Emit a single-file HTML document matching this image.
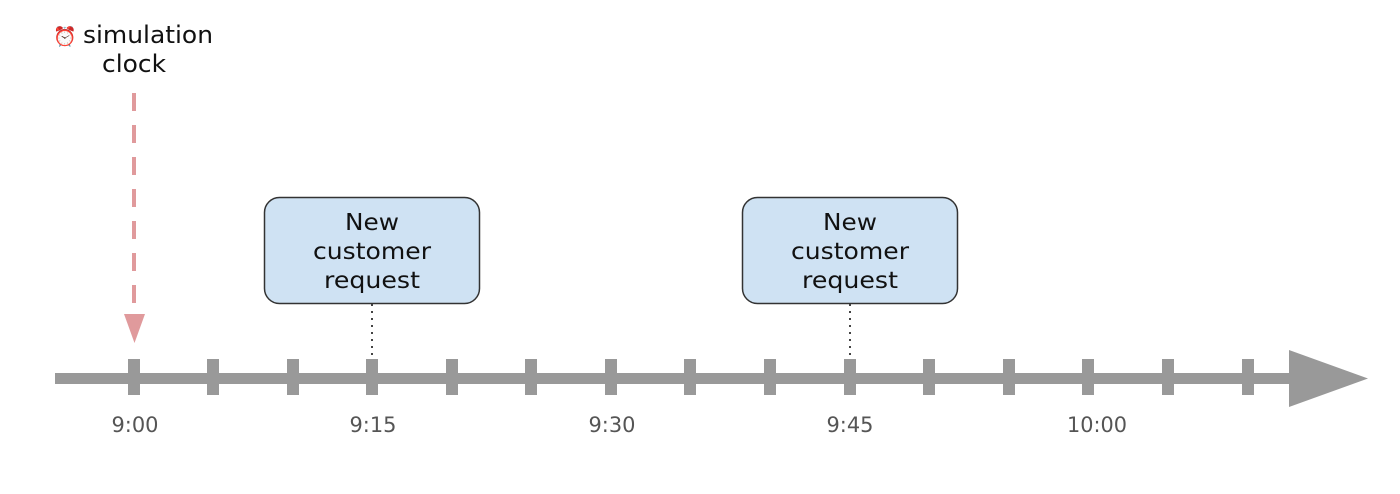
<!DOCTYPE html>
<html><head><style>body{margin:0;background:#fff}</style></head><body>
<svg width="1400" height="494" xmlns="http://www.w3.org/2000/svg" style="display:block">
<g font-family="DejaVu Sans, Liberation Sans, sans-serif">
<text x="65" y="43" font-size="19" text-anchor="middle" fill="#d66">⏰</text>
<text x="83" y="43" font-size="24" fill="#111" textLength="130" lengthAdjust="spacingAndGlyphs">simulation</text>
<text x="102" y="72" font-size="24" fill="#111" textLength="64" lengthAdjust="spacingAndGlyphs">clock</text>
<line x1="134" y1="93" x2="134" y2="306" stroke="#e09a9c" stroke-width="4" stroke-dasharray="18,14"/>
<polygon points="124,314 145,314 134.5,343" fill="#e09a9c"/>
<rect x="55" y="373" width="1240" height="11" fill="#999"/>
<polygon points="1289,350 1368,378.5 1289,407" fill="#999"/>
<g fill="#999">
<rect x="128" y="359" width="12" height="36"/><rect x="207" y="359" width="12" height="36"/>
<rect x="287" y="359" width="12" height="36"/><rect x="366" y="359" width="12" height="36"/>
<rect x="446" y="359" width="12" height="36"/><rect x="525" y="359" width="12" height="36"/>
<rect x="605" y="359" width="12" height="36"/><rect x="684" y="359" width="12" height="36"/>
<rect x="764" y="359" width="12" height="36"/><rect x="844" y="359" width="12" height="36"/>
<rect x="923" y="359" width="12" height="36"/><rect x="1003" y="359" width="12" height="36"/>
<rect x="1082" y="359" width="12" height="36"/><rect x="1162" y="359" width="12" height="36"/>
<rect x="1242" y="359" width="12" height="36"/>
</g>
<line x1="372" y1="304" x2="372" y2="358" stroke="#444" stroke-width="2" stroke-dasharray="2,5"/>
<line x1="850" y1="304" x2="850" y2="358" stroke="#444" stroke-width="2" stroke-dasharray="2,5"/>
<rect x="264.5" y="197.5" width="215" height="106" rx="15" fill="#cfe2f3" stroke="#333" stroke-width="1.5"/>
<rect x="742.5" y="197.5" width="215" height="106" rx="15" fill="#cfe2f3" stroke="#333" stroke-width="1.5"/>
<g font-size="23" fill="#111" text-anchor="middle">
<text x="372" y="230" textLength="54" lengthAdjust="spacingAndGlyphs">New</text><text x="372" y="259" textLength="118" lengthAdjust="spacingAndGlyphs">customer</text><text x="372" y="288" textLength="96" lengthAdjust="spacingAndGlyphs">request</text>
<text x="850" y="230" textLength="54" lengthAdjust="spacingAndGlyphs">New</text><text x="850" y="259" textLength="118" lengthAdjust="spacingAndGlyphs">customer</text><text x="850" y="288" textLength="96" lengthAdjust="spacingAndGlyphs">request</text>
</g>
<g font-size="21" fill="#555" text-anchor="middle">
<text x="135" y="432" textLength="47" lengthAdjust="spacingAndGlyphs">9:00</text><text x="373" y="432" textLength="47" lengthAdjust="spacingAndGlyphs">9:15</text><text x="612" y="432" textLength="47" lengthAdjust="spacingAndGlyphs">9:30</text>
<text x="850" y="432" textLength="47" lengthAdjust="spacingAndGlyphs">9:45</text><text x="1097" y="432" textLength="60" lengthAdjust="spacingAndGlyphs">10:00</text>
</g>
</g>
</svg>
</body></html>
